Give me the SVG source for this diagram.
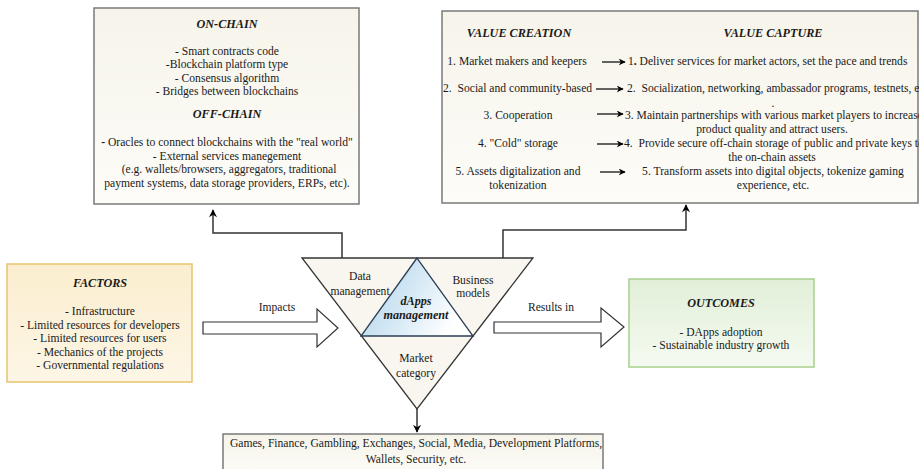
<svg xmlns="http://www.w3.org/2000/svg" width="919" height="469" viewBox="0 0 919 469">
<style>
text{font-family:"Liberation Serif","Times New Roman",serif;font-size:11.6px;fill:#1a1a1a}
.c{text-anchor:middle}
.h{font-weight:bold;font-style:italic;font-size:12.2px}
.box{stroke:#7a7a7a;stroke-width:1.5}
.ln{fill:none;stroke:#333;stroke-width:1.5}
.sa{fill:none;stroke:#111;stroke-width:1.3}
.big{fill:#fff;stroke:#333;stroke-width:1.2}
</style>
<defs>
<linearGradient id="gCream" x1="0" y1="0" x2="0" y2="1"><stop offset="0" stop-color="#f6f4ea"/><stop offset="1" stop-color="#fdfcf8"/></linearGradient>
<linearGradient id="gYellow" x1="0" y1="0" x2="0" y2="1"><stop offset="0" stop-color="#fbeecf"/><stop offset="1" stop-color="#fdf6e6"/></linearGradient>
<linearGradient id="gGreen" x1="0" y1="0" x2="0" y2="1"><stop offset="0" stop-color="#e1efd8"/><stop offset="1" stop-color="#f5faf1"/></linearGradient>
<linearGradient id="gBlue" x1="0" y1="0" x2="1" y2="0.4"><stop offset="0" stop-color="#a9d0ea"/><stop offset="0.55" stop-color="#d6e9f5"/><stop offset="1" stop-color="#ffffff"/></linearGradient>
<marker id="ah" viewBox="0 0 10 10" refX="9" refY="5" markerWidth="7" markerHeight="7" markerUnits="userSpaceOnUse" orient="auto"><path d="M0,0 L10,5 L0,10 L3,5 Z" fill="#000"/></marker>
<marker id="ahs" viewBox="0 0 10 10" refX="9" refY="5" markerWidth="9" markerHeight="8" markerUnits="userSpaceOnUse" orient="auto"><path d="M0,0 L10,5 L0,10 L3,5 Z" fill="#000"/></marker>
<clipPath id="cpv"><rect x="442" y="11" width="477" height="192"/></clipPath>
</defs>

<g id="on-off-chain">
<rect class="box" x="94" y="8" width="265" height="196" fill="url(#gCream)"/>
<text class="c h" x="227" y="28">ON-CHAIN</text>
<text class="c" x="227" y="55">- Smart contracts code</text>
<text class="c" x="227" y="68">-Blockchain platform type</text>
<text class="c" x="227" y="82">- Consensus algorithm</text>
<text class="c" x="227" y="95">- Bridges between blockchains</text>
<text class="c h" x="227" y="118">OFF-CHAIN</text>
<text class="c" x="227" y="146"><tspan font-weight="bold">-</tspan> Oracles to connect blockchains with the "real world"</text>
<text class="c" x="227" y="160">- External services manegement</text>
<text class="c" x="229" y="173">(e.g. wallets/browsers, aggregators, traditional</text>
<text class="c" x="227" y="187">payment systems, data storage providers, ERPs, etc).</text>
</g>

<g id="value">
<rect class="box" x="442" y="11" width="476" height="192" fill="url(#gCream)"/>
<g clip-path="url(#cpv)">
<text class="c h" x="519" y="37">VALUE CREATION</text>
<text class="c h" x="773" y="37">VALUE CAPTURE</text>
<text class="c" x="517" y="65">1. Market makers and keepers</text>
<text x="628" y="65">1<tspan font-weight="bold">.</tspan> Deliver services for market actors, set the pace and trends</text>
<text x="443" y="92" xml:space="preserve">2.  Social and community-based</text>
<text x="627" y="92" xml:space="preserve">2.  Socialization, networking, ambassador programs, testnets, etc</text>
<text class="c" x="773" y="107">.</text>
<text class="c" x="518" y="119">3. Cooperation</text>
<text x="625" y="119">3. Maintain partnerships with various market players to increase</text>
<text class="c" x="772" y="133">product quality and attract users.</text>
<text class="c" x="518" y="147">4. "Cold" storage</text>
<text x="624" y="147" xml:space="preserve">4.  Provide secure off-chain storage of public and private keys to</text>
<text class="c" x="772" y="161">the on-chain assets</text>
<text class="c" x="518" y="175">5. Assets digitalization and</text>
<text class="c" x="518" y="189">tokenization</text>
<text class="c" x="773" y="175">5. Transform assets into digital objects, tokenize gaming</text>
<text class="c" x="773" y="189">experience, etc.</text>
</g>
</g>

<g id="factors">
<rect x="7" y="264" width="185" height="118" fill="url(#gYellow)" stroke="#e6c56f" stroke-width="1.5"/>
<text class="c h" x="100" y="287">FACTORS</text>
<text class="c" x="100" y="315">- Infrastructure</text>
<text class="c" x="100" y="329">- Limited resources for developers</text>
<text class="c" x="100" y="342">- Limited resources for users</text>
<text class="c" x="100" y="356">- Mechanics of the projects</text>
<text class="c" x="100" y="369">- Governmental regulations</text>
</g>

<g id="outcomes">
<rect x="629" y="279" width="185" height="88" fill="url(#gGreen)" stroke="#a8d08c" stroke-width="1.5"/>
<text class="c h" x="721" y="307">OUTCOMES</text>
<text class="c" x="721" y="336">- DApps adoption</text>
<text class="c" x="721" y="349">- Sustainable industry growth</text>
</g>

<g id="dapps-management">
<polygon points="302,258 533,258 417,409" fill="#f8f6ee" stroke="#333" stroke-width="1.3"/>
<polygon points="417,258 361,336 473,336" fill="url(#gBlue)" stroke="#2b3f55" stroke-width="1.3"/>
<text class="c" x="360" y="280">Data</text>
<text class="c" x="360" y="295">management</text>
<text class="c" x="473" y="284">Business</text>
<text class="c" x="473" y="297">models</text>
<text class="c h" x="416" y="305" font-size="11.8">dApps</text>
<text class="c h" x="416" y="319" font-size="11.8">management</text>
<text class="c" x="416" y="362">Market</text>
<text class="c" x="416" y="377">category</text>
</g>

<g id="market-categories">
<rect class="box" x="223" y="434" width="380" height="45" fill="url(#gCream)"/>
<text class="c" x="416" y="447">Games, Finance, Gambling, Exchanges, Social, Media, Development Platforms,</text>
<text class="c" x="416" y="463">Wallets, Security, etc.</text>
</g>

<g id="connectors">
<polyline class="ln" points="342,258 342,233 213,233 213,210" marker-end="url(#ahs)"/>
<polyline class="ln" points="503,258 503,230 686,230 686,205" marker-end="url(#ahs)"/>
<line class="ln" x1="417" y1="409" x2="417" y2="432" marker-end="url(#ahs)"/>
<polygon class="big" points="203,322 317,322 317,309 338,328 317,347 317,334 203,334"/>
<text class="c" x="277" y="311">Impacts</text>
<polygon class="big" points="494,322 601,322 601,308 624,327 601,347 601,333 494,333"/>
<text class="c" x="551" y="311">Results in</text>
<line class="sa" x1="602" y1="62" x2="625" y2="62" marker-end="url(#ah)"/>
<line class="sa" x1="596" y1="89" x2="623" y2="89" marker-end="url(#ah)"/>
<line class="sa" x1="597" y1="114" x2="623" y2="114" marker-end="url(#ah)"/>
<line class="sa" x1="597" y1="144" x2="623" y2="144" marker-end="url(#ah)"/>
<line class="sa" x1="600" y1="172" x2="625" y2="172" marker-end="url(#ah)"/>
</g>
</svg>
